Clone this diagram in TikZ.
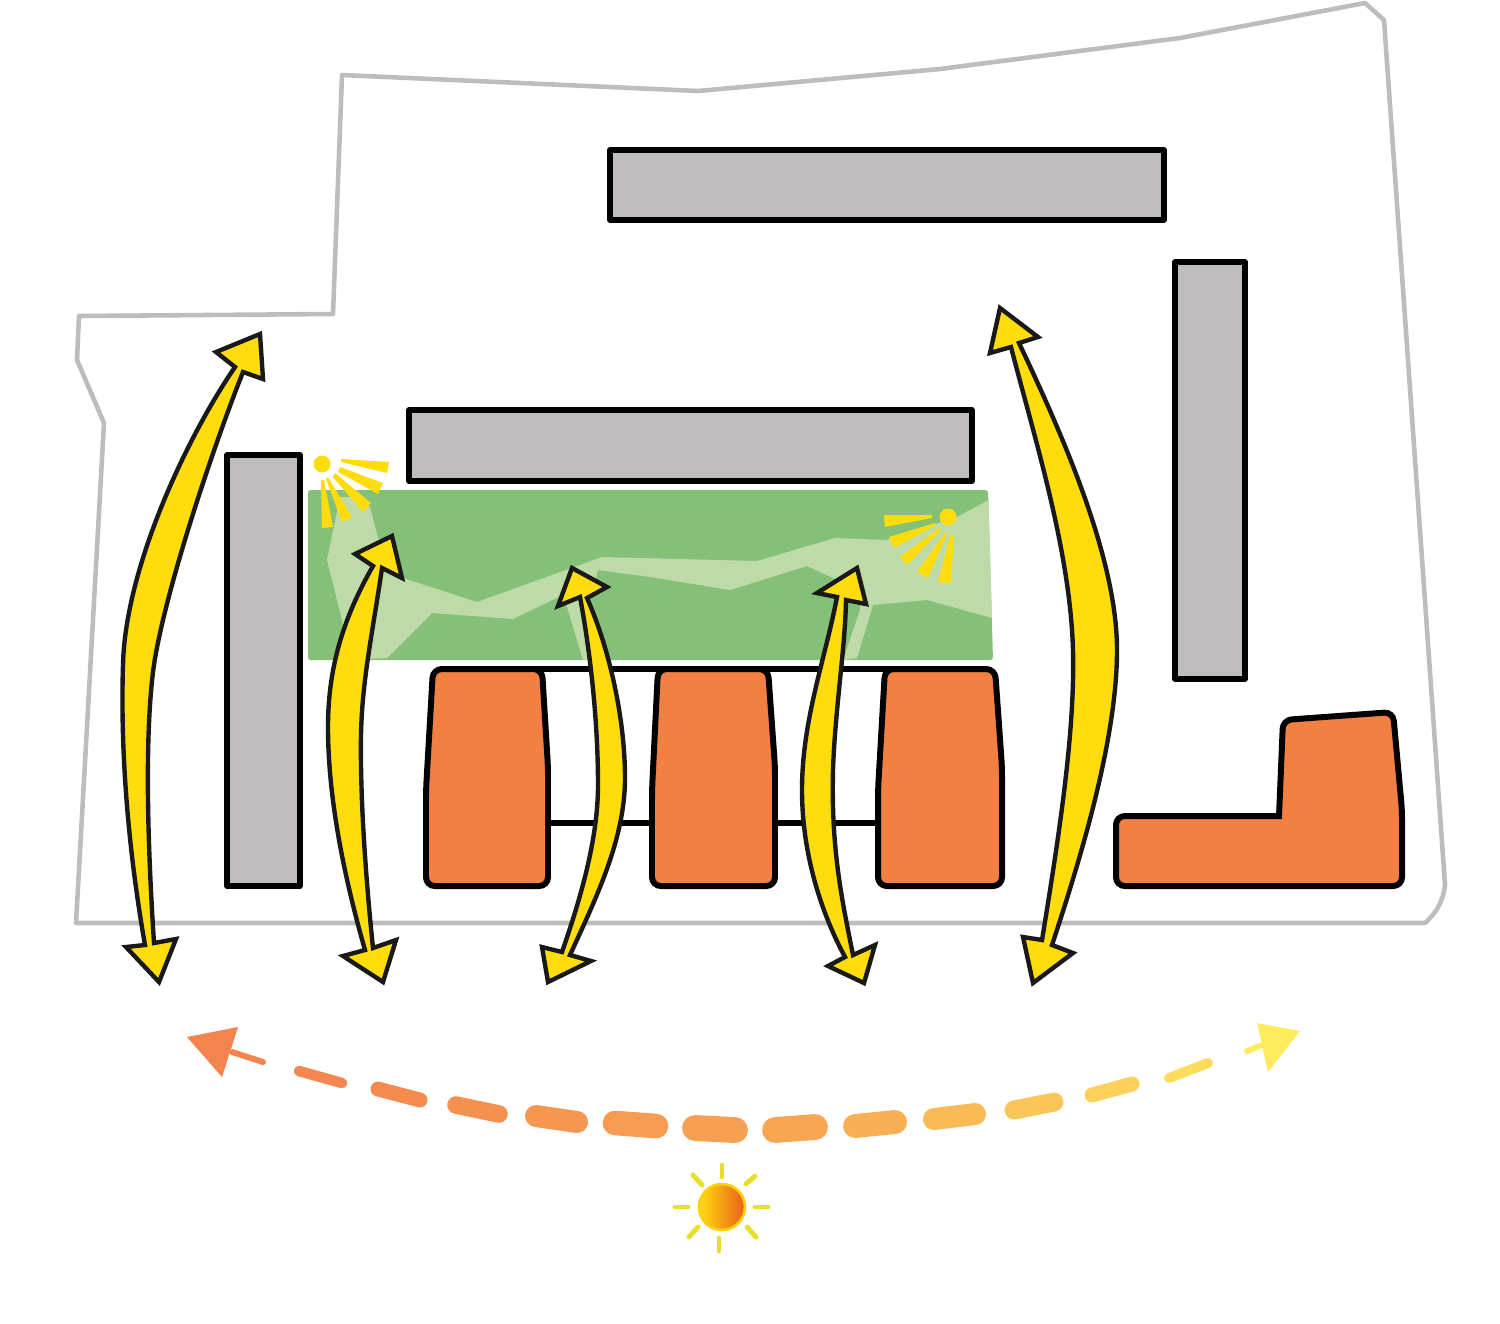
\documentclass[tikz,border=0pt]{standalone}
\usepackage{xcolor}
\definecolor{siteline}{HTML}{BDBDBD}
\definecolor{slab}{HTML}{BEBCBC}
\definecolor{brick}{HTML}{F38043}
\definecolor{lawn}{HTML}{84C077}
\definecolor{lawnpale}{HTML}{BEDAA8}
\definecolor{ray}{HTML}{FFDD0C}
\definecolor{glowline}{HTML}{E9DE2A}
\definecolor{sunhot}{HTML}{E8601A}
\definecolor{pathfrom}{HTML}{F4844E}
\definecolor{pathto}{HTML}{FFEC5E}
\begin{document}
\begin{tikzpicture}[
    x=0.02cm, y=-0.02cm,
    site/.style={draw=siteline, line width=2.6pt, line join=round},
    slabbox/.style={draw=black, fill=slab, line width=3.2pt, line join=round},
    brickbox/.style={draw=black, fill=brick, line width=3.4pt, rounded corners=5pt},
    tie/.style={draw=black, line width=3.2pt},
    flow/.style={draw=black!90, fill=ray, line width=2.5pt, line join=miter},
    beam/.style={fill=ray},
    glow/.style={draw=glowline, line width=2.8pt, line cap=round}
]
    \useasboundingbox (0,0) rectangle (1500,1323);

    \draw[site] (76,923) -- (104,423) -- (77,360) -- (79,316) -- (333,314) -- (342,75) -- (698,91)
        -- (940,69) -- (1180,38) -- (1365,3) -- (1384,20) -- (1445,885)
        .. controls (1443,902) and (1436,913) .. (1425,923) -- cycle;

    \draw[slabbox] (610,150) rectangle (1164,220);
    \draw[slabbox] (1175,262) rectangle (1245,679);
    \draw[slabbox] (409,410) rectangle (972,481);
    \draw[slabbox] (227,455) rectangle (300,886);

    \fill[lawn, rounded corners=1.5pt] (308,490) -- (988,490) -- (993,660) -- (308,660) -- cycle;
    \fill[lawnpale] (340,497) -- (363,497) -- (370,507) -- (378,538) -- (403,578) -- (477,602) -- (602,557)
        -- (757,561) -- (835,538) -- (887,540) -- (957,517) -- (988.5,500) -- (992,618) -- (927,600)
        -- (873,605) -- (857,658) -- (843,660) -- (860,610) -- (862,590) -- (833,578) -- (807,566)
        -- (730,590) -- (650,577) -- (598,570) -- (590,600) -- (595,660) -- (583,660) -- (567,607)
        -- (563,595) -- (513,619) -- (432,613) -- (387,658) -- (345,660) -- (342,620) -- (327,560) -- cycle;

    \fill[ray] (322,464) circle (8.5);
    \fill[beam] (341,459) -- (389,462) -- (387,473) -- (341,462) -- cycle;
    \fill[beam] (340,467) -- (383,483) -- (378,494) -- (338,472) -- cycle;
    \fill[beam] (335,473) -- (371,503) -- (363,512) -- (333,477) -- cycle;
    \fill[beam] (328,477) -- (352,517) -- (342,522) -- (326,479) -- cycle;
    \fill[beam] (321,480) -- (324,480) -- (333,527) -- (322,528) -- cycle;

    \fill[ray] (948,517) circle (8.5);
    \fill[beam] (932,515) -- (884,515) -- (885,527) -- (932,518) -- cycle;
    \fill[beam] (935,523) -- (889,537) -- (894,548) -- (936,525) -- cycle;
    \fill[beam] (939,528) -- (900,557) -- (907,565) -- (941,530) -- cycle;
    \fill[beam] (945,533) -- (917,572) -- (928,578) -- (947,534) -- cycle;
    \fill[beam] (950,536) -- (938,582) -- (951,583) -- (954,536) -- cycle;

    \draw[tie] (500,669) -- (950,669);
    \draw[tie] (548,823) -- (878,823);

    \draw[brickbox] (433,669) -- (542,669) -- (548,767) -- (548,886) -- (426,886) -- (426,790) -- cycle;
    \draw[brickbox] (658,669) -- (768,669) -- (775,767) -- (775,886) -- (652,886) -- (652,790) -- cycle;
    \draw[brickbox] (885,669) -- (995,669) -- (1002,767) -- (1002,886) -- (878,886) -- (878,790) -- cycle;
    \draw[brickbox] (1279,816) -- (1283,720) -- (1393,712) -- (1402,810) -- (1402,886) -- (1116,886) -- (1116,816) [sharp corners] -- cycle;

    \draw[flow] (260,334) -- (263,379) -- (243,372)
        .. controls (212,450) and (162,600) .. (153,672)
        .. controls (146,730) and (146,820) .. (154,943)
        -- (176,939) -- (159,982) -- (126,947) -- (145,945)
        .. controls (130,860) and (120,760) .. (123,665)
        .. controls (125,570) and (185,440) .. (235,367)
        -- (216,352) -- cycle;
    \draw[flow] (392,536) -- (402,578) -- (382,568)
        .. controls (373,630) and (362,680) .. (361,735)
        .. controls (360,800) and (366,880) .. (373,948)
        -- (396,940) -- (383,982) -- (343,956) -- (365,950)
        .. controls (345,880) and (328,800) .. (328,727)
        .. controls (328,670) and (342,620) .. (373,566)
        -- (355,554) -- cycle;
    \draw[flow] (572,568) -- (607,587) -- (587,598)
        .. controls (610,650) and (625,720) .. (625,778)
        .. controls (625,840) and (595,900) .. (570,955)
        -- (591,961) -- (548,982) -- (542,947) -- (562,952)
        .. controls (580,900) and (598,840) .. (598,785)
        .. controls (598,720) and (590,650) .. (580,597)
        -- (558,606) -- cycle;
    \draw[flow] (857,568) -- (866,604) -- (846,600)
        .. controls (845,650) and (835,710) .. (833,770)
        .. controls (831,850) and (842,900) .. (853,955)
        -- (875,945) -- (864,983) -- (828,966) -- (845,957)
        .. controls (825,920) and (802,860) .. (802,790)
        .. controls (802,720) and (825,660) .. (837,597)
        -- (817,593) -- cycle;
    \draw[flow] (1000,308) -- (1038,337) -- (1019,343)
        .. controls (1065,440) and (1117,560) .. (1117,650)
        .. controls (1117,740) and (1080,860) .. (1052,945)
        -- (1073,953) -- (1033,983) -- (1023,937) -- (1042,940)
        .. controls (1060,830) and (1075,730) .. (1073,650)
        .. controls (1070,550) and (1035,440) .. (1011,347)
        -- (990,353) -- cycle;

    \fill[pathfrom] (187,1037) -- (238,1027) -- (222,1077) -- cycle;
    \fill[pathto] (1300,1031) -- (1257,1023) -- (1268,1072) -- cycle;
    \foreach \xa/\ya/\xb/\yb/\w/\m in {
        232/1052/263/1062/3.4/0, 299/1071/342/1083/6/3, 378/1089/420/1100/8.5/7,
        456/1105/499/1114/10/12, 536/1116/577/1122/12.5/17, 615/1123/656/1126/14/22,
        695/1128/735/1130/14.7/27, 775/1130/815/1127/14.7/33, 855/1126/895/1122/13.6/42,
        934/1119/975/1114/12.5/52, 1014/1110/1054/1102/10.8/63, 1092/1095/1132/1084/8.5/73,
        1169/1078/1208/1063/5.7/85, 1247/1051/1262/1045/3.4/100} {
        \colorlet{dashtone}{pathto!\m!pathfrom}
        \draw[dashtone, line width=\w pt, line cap=round] (\xa,\ya) -- (\xb,\yb);
    }

    \draw[glow] (722,1165) -- (722,1177);
    \draw[glow] (719,1238) -- (719,1251);
    \draw[glow] (675,1207) -- (688,1207);
    \draw[glow] (755,1207) -- (768,1207);
    \draw[glow] (693,1175) -- (702,1185);
    \draw[glow] (755,1176) -- (746,1184);
    \draw[glow] (689,1237) -- (698,1227);
    \draw[glow] (756,1237) -- (747,1227);
    \shade[left color=ray, right color=sunhot, draw=ray!85!orange, line width=1.5pt] (722,1207) circle (23);
\end{tikzpicture}
\end{document}
